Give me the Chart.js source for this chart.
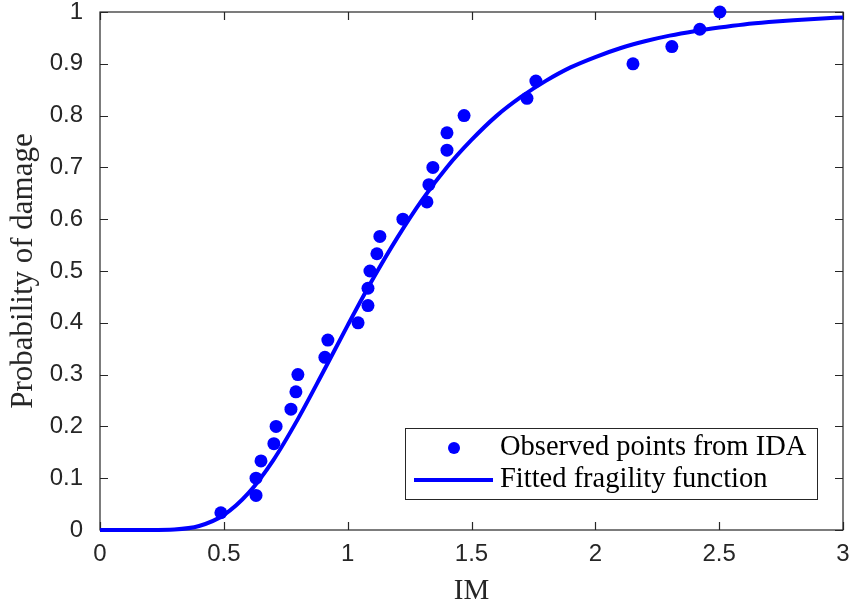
<!DOCTYPE html>
<html>
<head>
<meta charset="utf-8">
<script src="https://cdn.jsdelivr.net/npm/chart.js@4.4.0/dist/chart.umd.min.js"></script>
<style>
  html, body { margin: 0; padding: 0; background: #fff; }
  #wrap { width: 851px; height: 606px; }
</style>
</head>
<body>
<div id="wrap"><canvas id="fragility"></canvas></div>
<script>
// observed exceedance fractions from IDA (k / 30)
const imObserved = [0.488, 0.630, 0.630, 0.650, 0.702, 0.711, 0.771, 0.791, 0.799, 0.908,
  0.920, 1.042, 1.082, 1.082, 1.090, 1.118, 1.130, 1.223, 1.320, 1.328,
  1.344, 1.401, 1.401, 1.470, 1.724, 1.760, 2.152, 2.309, 2.422, 2.503];
const probObserved = [0.0333, 0.0667, 0.1, 0.1333, 0.1667, 0.2, 0.2333, 0.2667, 0.3, 0.3333,
  0.3667, 0.4, 0.4333, 0.4667, 0.5, 0.5333, 0.5667, 0.6, 0.6333, 0.6667,
  0.7, 0.7333, 0.7667, 0.8, 0.8333, 0.8667, 0.9, 0.9333, 0.9667, 1.0];

// fitted fragility curve sampled along IM
const imFit = [0, 0.1, 0.2, 0.3, 0.4, 0.5, 0.6, 0.7, 0.8, 0.9, 1.0, 1.1, 1.2, 1.3, 1.4, 1.5,
  1.6, 1.7, 1.8, 1.9, 2.0, 2.1, 2.2, 2.3, 2.4, 2.5, 2.6, 2.7, 2.8, 2.9, 3.0];
const probFit = [0, 0, 0.00003, 0.001, 0.0078, 0.029, 0.0715, 0.135, 0.215, 0.304, 0.395,
  0.483, 0.564, 0.637, 0.700, 0.753, 0.799, 0.836, 0.867, 0.893, 0.913, 0.930, 0.9435,
  0.9544, 0.963, 0.970, 0.976, 0.9806, 0.9843, 0.9872, 0.9896];

const xTicks = [0, 0.5, 1, 1.5, 2, 2.5, 3];
const yTicks = [0, 0.1, 0.2, 0.3, 0.4, 0.5, 0.6, 0.7, 0.8, 0.9, 1];

const BLUE = '#0000ff';
const AXIS = '#262626';
const SANS = '"Liberation Sans", Arial, sans-serif';
const SERIF = '"Liberation Serif", "Times New Roman", serif';

// box around the axes with inward ticks on all four sides
const boxAxes = {
  id: 'boxAxes',
  beforeDatasetsDraw(chart) {
    const { ctx, chartArea: a, scales } = chart;
    const len = 8;
    ctx.save();
    ctx.strokeStyle = AXIS;
    ctx.lineWidth = 1.2;
    ctx.strokeRect(a.left, a.top, a.right - a.left, a.bottom - a.top);
    ctx.beginPath();
    xTicks.forEach(v => {
      const px = Math.round(scales.x.getPixelForValue(v)) + 0.5;
      ctx.moveTo(px, a.bottom); ctx.lineTo(px, a.bottom - len);
      ctx.moveTo(px, a.top); ctx.lineTo(px, a.top + len);
    });
    yTicks.forEach(v => {
      const py = Math.round(scales.y.getPixelForValue(v)) + 0.5;
      ctx.moveTo(a.left, py); ctx.lineTo(a.left + len, py);
      ctx.moveTo(a.right, py); ctx.lineTo(a.right - len, py);
    });
    ctx.stroke();
    ctx.restore();
  },
  afterDraw(chart) {
    // legend box in the lower right corner
    const { ctx } = chart;
    const sets = chart.data.datasets;
    const bx = 405.5, by = 428.5, bw = 412, bh = 71;
    ctx.save();
    ctx.fillStyle = '#fff';
    ctx.fillRect(bx, by, bw, bh);
    ctx.strokeStyle = AXIS;
    ctx.lineWidth = 1;
    ctx.strokeRect(bx, by, bw, bh);

    ctx.fillStyle = BLUE;
    ctx.beginPath();
    ctx.arc(454, 448, 6, 0, Math.PI * 2);
    ctx.fill();

    ctx.strokeStyle = BLUE;
    ctx.lineWidth = 4;
    ctx.beginPath();
    ctx.moveTo(414, 480); ctx.lineTo(493, 480);
    ctx.stroke();

    ctx.fillStyle = '#000';
    ctx.font = '28.5px ' + SERIF;
    ctx.textBaseline = 'middle';
    ctx.textAlign = 'left';
    ctx.fillText(sets[0].label, 500, 448);
    ctx.fillText(sets[1].label, 500, 480);
    ctx.restore();
  }
};

new Chart(document.getElementById('fragility'), {
  type: 'scatter',
  data: {
    datasets: [{
      label: 'Observed points from IDA',
      data: imObserved.map((x, i) => ({ x, y: probObserved[i] })),
      backgroundColor: BLUE,
      borderColor: BLUE,
      pointRadius: 6.5,
      pointBorderWidth: 0,
      clip: false,
      order: 0
    }, {
      label: 'Fitted fragility function',
      data: imFit.map((x, i) => ({ x, y: probFit[i] })),
      showLine: true,
      borderColor: BLUE,
      borderWidth: 4,
      pointRadius: 0,
      cubicInterpolationMode: 'monotone',
      clip: false,
      order: 1
    }]
  },
  options: {
    responsive: true,
    maintainAspectRatio: false,
    animation: false,
    layout: { padding: { top: 12, right: 8, left: 0, bottom: 0 } },
    plugins: { legend: { display: false }, tooltip: { enabled: false } },
    scales: {
      x: {
        type: 'linear',
        min: 0, max: 3,
        afterBuildTicks: s => { s.ticks = xTicks.map(v => ({ value: v })); },
        afterFit: s => { s.height = 76; s.paddingRight = 0; s.paddingLeft = 0; },
        grid: { display: false, drawTicks: false },
        border: { display: false },
        ticks: { color: AXIS, font: { family: SANS, size: 24 }, padding: 10, maxRotation: 0,
          callback: v => String(v) },
        title: { display: true, text: 'IM', color: AXIS,
          font: { family: SERIF, size: 29, lineHeight: 1 }, padding: { top: 0, bottom: 0 } }
      },
      y: {
        type: 'linear',
        min: 0, max: 1,
        afterBuildTicks: s => { s.ticks = yTicks.map(v => ({ value: v })); },
        afterFit: s => { s.width = 100; s.paddingTop = 0; s.paddingBottom = 0; },
        grid: { display: false, drawTicks: false },
        border: { display: false },
        ticks: { color: AXIS, font: { family: SANS, size: 24 }, padding: 17,
          callback: v => String(v) },
        title: { display: true, text: 'Probability of damage', color: AXIS,
          font: { family: SERIF, size: 31, lineHeight: 1 }, padding: { top: 8, bottom: 0 } }
      }
    }
  },
  plugins: [boxAxes]
});
</script>
</body>
</html>
